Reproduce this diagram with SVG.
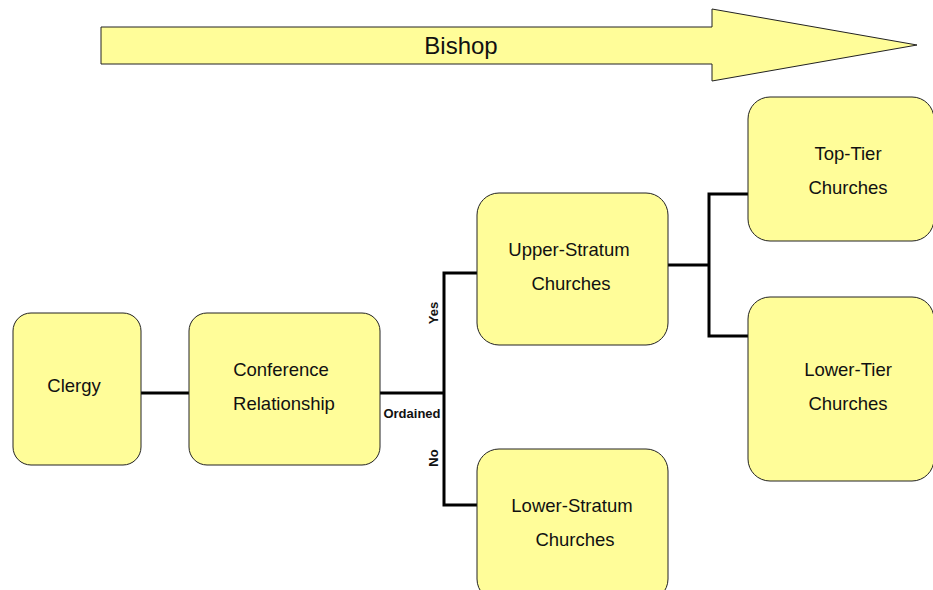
<svg xmlns="http://www.w3.org/2000/svg" width="933" height="590" viewBox="0 0 933 590">
  <style>
    .box { fill: #FFFD99; stroke: #222; stroke-width: 1; }
    .lbl { font-family: "Liberation Sans", Arial, sans-serif; font-size: 18.5px; fill: #111; text-anchor: middle; }
    .small { font-family: "Liberation Sans", Arial, sans-serif; font-size: 13px; font-weight: bold; fill: #111; text-anchor: middle; }
    .wire { fill: none; stroke: #000; stroke-width: 3; }
  </style>
  <rect width="933" height="590" fill="#fff"/>

  <!-- Bishop arrow -->
  <g id="bishop">
    <polygon class="box" points="101,27 712,27 712,9 917,45 712,81 712,64 101,64"/>
    <text class="lbl" x="461" y="54" style="font-size:24px">Bishop</text>
  </g>

  <!-- Connectors -->
  <g id="connectors">
    <path class="wire" d="M141,393 H189"/>
    <path class="wire" d="M380,393 H444"/>
    <path class="wire" d="M477,273 H444 V505 H477"/>
    <path class="wire" d="M668,265 H709"/>
    <path class="wire" d="M748,194 H709 V336 H748"/>
    <text class="small" x="412" y="418">Ordained</text>
    <text class="small" transform="translate(438,313) rotate(-90)">Yes</text>
    <text class="small" transform="translate(438,458) rotate(-90)">No</text>
  </g>

  <g id="clergy">
    <rect class="box" x="13" y="313" width="128" height="152" rx="18"/>
    <text class="lbl" x="74" y="392">Clergy</text>
  </g>

  <g id="conference">
    <rect class="box" x="189" y="313" width="191" height="152" rx="18"/>
    <text class="lbl" x="281" y="376">Conference</text>
    <text class="lbl" x="284" y="410">Relationship</text>
  </g>

  <g id="upper-stratum">
    <rect class="box" x="477" y="193" width="191" height="152" rx="22"/>
    <text class="lbl" x="569" y="256">Upper-Stratum</text>
    <text class="lbl" x="571" y="290">Churches</text>
  </g>

  <g id="lower-stratum">
    <rect class="box" x="477" y="449" width="191" height="152" rx="22"/>
    <text class="lbl" x="572" y="512">Lower-Stratum</text>
    <text class="lbl" x="575" y="546">Churches</text>
  </g>

  <g id="top-tier">
    <rect class="box" x="748" y="97" width="186" height="144" rx="22"/>
    <text class="lbl" x="848" y="160">Top-Tier</text>
    <text class="lbl" x="848" y="194">Churches</text>
  </g>

  <g id="lower-tier">
    <rect class="box" x="748" y="297" width="186" height="184" rx="22"/>
    <text class="lbl" x="848" y="376">Lower-Tier</text>
    <text class="lbl" x="848" y="410">Churches</text>
  </g>
</svg>
